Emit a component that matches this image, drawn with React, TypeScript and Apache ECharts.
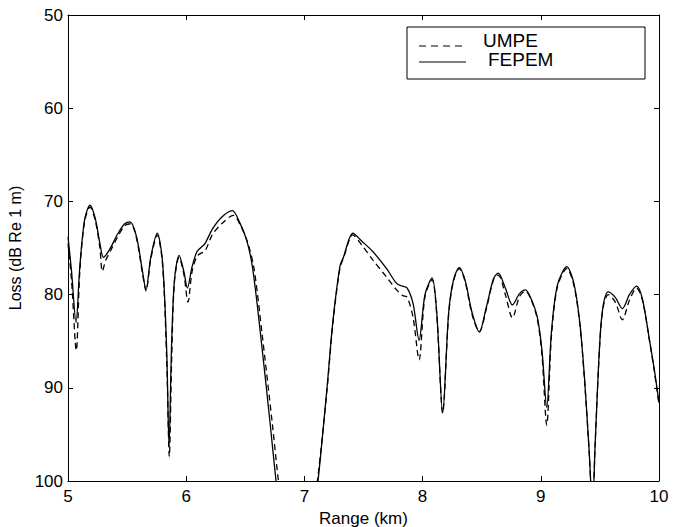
import React, { useEffect, useRef } from "react";
import * as echarts from "echarts";

const xTicks = [5, 6, 7, 8, 9, 10];
const yTicks = [50, 60, 70, 80, 90, 100];

const fepemRange = [
  5.0, 5.03, 5.068, 5.1, 5.14, 5.186, 5.23, 5.27, 5.3, 5.35, 5.42, 5.48, 5.525, 5.58, 5.63, 5.66,
  5.7, 5.755, 5.8, 5.835, 5.855, 5.875, 5.9, 5.94, 5.98, 6.01, 6.05, 6.09, 6.12, 6.16, 6.22, 6.3,
  6.39, 6.45, 6.51, 6.56, 6.625, 6.71, 6.76, 6.8, 7.07, 7.115, 7.19, 7.24, 7.3, 7.33, 7.41, 7.48,
  7.58, 7.7, 7.78, 7.83, 7.87, 7.92, 7.97, 8.02, 8.08, 8.12, 8.17, 8.22, 8.26, 8.31, 8.36, 8.42,
  8.48, 8.54, 8.6, 8.64, 8.7, 8.76, 8.82, 8.87, 8.92, 8.97, 9.01, 9.05, 9.09, 9.14, 9.22, 9.28,
  9.33, 9.37, 9.41, 9.437, 9.46, 9.5, 9.53, 9.57, 9.63, 9.69, 9.75, 9.81, 9.86, 9.92, 9.96, 10.0,
];
const fepemLoss = [
  73.8, 77.5, 83.0, 77.0, 72.0, 70.4, 71.8, 74.5, 76.0, 75.2, 73.5, 72.4, 72.2, 73.8, 77.5, 79.5,
  76.0, 73.4, 76.5, 86.0, 96.3, 86.0, 78.5, 75.8, 77.5, 79.3, 77.0, 75.4, 75.0, 74.5, 73.0, 71.7,
  71.0, 72.2, 74.1, 77.0, 83.8, 93.8, 100.0, 104.0, 104.0, 100.0, 90.2, 83.0, 77.0, 76.0, 73.4, 74.2,
  75.4, 77.3, 78.8, 79.1, 79.3, 81.0, 84.9, 80.0, 78.2, 82.0, 92.7, 82.0, 78.5, 77.1, 78.5, 82.0,
  84.0, 81.3, 78.3, 77.7, 79.3, 81.1, 79.9, 79.5, 80.5, 82.4, 86.0, 92.1, 84.0, 79.0, 77.0, 78.8,
  83.0, 89.0, 97.0, 103.0, 96.0, 84.9, 81.0, 79.7, 80.3, 81.5, 80.0, 79.1, 80.5, 84.9, 88.0, 91.6,
];

const umpeRange = [
  5.0, 5.03, 5.07, 5.1, 5.14, 5.186, 5.23, 5.27, 5.29, 5.32, 5.36, 5.42, 5.48, 5.53, 5.58, 5.63, 5.66,
  5.7, 5.755, 5.8, 5.835, 5.857, 5.877, 5.9, 5.94, 5.98, 6.015, 6.05, 6.09, 6.12, 6.16, 6.22, 6.3,
  6.4, 6.46, 6.525, 6.575, 6.64, 6.73, 6.78, 6.82, 7.06, 7.11, 7.19, 7.24, 7.3, 7.33, 7.41, 7.48,
  7.58, 7.7, 7.78, 7.83, 7.87, 7.92, 7.97, 8.02, 8.08, 8.12, 8.17, 8.22, 8.26, 8.31, 8.36, 8.42,
  8.48, 8.54, 8.6, 8.64, 8.7, 8.76, 8.82, 8.87, 8.92, 8.97, 9.01, 9.05, 9.09, 9.14, 9.22, 9.28,
  9.33, 9.37, 9.41, 9.437, 9.46, 9.5, 9.53, 9.57, 9.63, 9.69, 9.75, 9.81, 9.86, 9.92, 9.96, 10.0,
];
const umpeLoss = [
  74.5, 78.5, 86.0, 77.5, 72.2, 70.6, 72.0, 75.0, 77.5, 76.3, 75.3, 73.8, 72.6, 72.4, 74.0, 77.7, 79.6,
  76.2, 73.6, 76.8, 87.0, 97.4, 87.0, 78.7, 76.0, 77.8, 80.8, 77.5, 75.9, 75.6, 75.3, 73.6, 72.4,
  71.5, 72.6, 74.6, 77.3, 84.0, 94.0, 100.0, 104.0, 104.0, 100.0, 90.4, 83.2, 77.2, 76.1, 73.6, 74.6,
  76.3, 78.2, 79.5, 80.1, 80.3, 82.5, 87.0, 80.2, 78.4, 82.2, 92.7, 82.2, 78.6, 77.2, 78.6, 82.2,
  84.0, 81.5, 78.4, 77.9, 80.0, 82.5, 80.2, 79.6, 80.6, 82.6, 86.5, 94.0, 84.5, 79.2, 77.2, 79.0,
  83.2, 89.2, 97.0, 103.0, 96.0, 85.0, 81.2, 80.0, 80.8, 82.7, 80.6, 79.3, 80.6, 85.0, 88.2, 91.8,
];

const legendNames = ["UMPE", "FEPEM"];

const FONT = "'Liberation Sans', Arial, Helvetica, sans-serif";

export default function App() {
  const ref = useRef<HTMLDivElement>(null);
  useEffect(() => {
    if (!ref.current) return;
    const chart = echarts.init(ref.current, undefined, { renderer: "svg" });
    const axisLine = { show: true, lineStyle: { color: "#000", width: 1 } };
    const tick = { show: true, inside: true, length: 5, lineStyle: { color: "#000", width: 1 } };
    const label = { color: "#000", fontSize: 17, fontFamily: FONT };
    chart.setOption({
      animation: false,
      backgroundColor: "#fff",
      grid: { left: 68, right: 24, top: 15, bottom: 46, containLabel: false, outerBoundsMode: "none" },
      xAxis: [
        {
          type: "value", min: 5, max: 10, interval: 1, position: "bottom",
          axisLine, axisTick: tick, splitLine: { show: false },
          axisLabel: { ...label, margin: 7, formatter: (v: number) => (xTicks.includes(v) ? String(v) : "") },
          name: "Range (km)", nameLocation: "middle", nameGap: 27,
          nameTextStyle: { color: "#000", fontSize: 17, fontFamily: FONT },
        },
        {
          type: "value", min: 5, max: 10, interval: 1, position: "top",
          axisLine, axisTick: tick, splitLine: { show: false }, axisLabel: { show: false },
        },
      ],
      yAxis: [
        {
          type: "value", min: 50, max: 100, interval: 10, inverse: true, position: "left",
          axisLine, axisTick: tick, splitLine: { show: false },
          axisLabel: { ...label, margin: 5, formatter: (v: number) => (yTicks.includes(v) ? String(v) : "") },
          name: "Loss (dB Re 1 m)", nameLocation: "middle", nameGap: 38, nameRotate: 90,
          nameTextStyle: { color: "#000", fontSize: 16, fontFamily: FONT },
        },
        {
          type: "value", min: 50, max: 100, interval: 10, inverse: true, position: "right",
          axisLine, axisTick: tick, splitLine: { show: false }, axisLabel: { show: false },
        },
      ],
      series: [
        {
          name: legendNames[0], type: "line", xAxisIndex: 0, yAxisIndex: 0,
          data: umpeRange.map((x, i) => [x, umpeLoss[i]]),
          showSymbol: false, smooth: 0.3, clip: true,
          lineStyle: { color: "#000", width: 1.3, type: [6, 4] },
        },
        {
          name: legendNames[1], type: "line", xAxisIndex: 0, yAxisIndex: 0,
          data: fepemRange.map((x, i) => [x, fepemLoss[i]]),
          showSymbol: false, smooth: 0.3, clip: true,
          lineStyle: { color: "#000", width: 1.3, type: "solid" },
        },
      ],
      graphic: [
        { type: "rect", shape: { x: 407, y: 27, width: 238, height: 52 }, style: { fill: "#fff", stroke: "#000", lineWidth: 1 }, z: 100 },
        { type: "line", shape: { x1: 419, y1: 46, x2: 462, y2: 46 }, style: { stroke: "#000", lineWidth: 1.2, lineDash: [7, 5] }, z: 101 },
        { type: "line", shape: { x1: 419, y1: 62, x2: 466, y2: 62 }, style: { stroke: "#000", lineWidth: 1.2 }, z: 101 },
        { type: "text", x: 483, y: 40, style: { text: legendNames[0], fill: "#000", fontSize: 19, fontFamily: FONT, verticalAlign: "middle" }, z: 101 },
        { type: "text", x: 488, y: 59, style: { text: legendNames[1], fill: "#000", fontSize: 19, fontFamily: FONT, verticalAlign: "middle" }, z: 101 },
      ],
    });
    return () => chart.dispose();
  }, []);
  return <div ref={ref} style={{ width: 683, height: 527, position: "absolute", left: 0, top: 0 }} />;
}
